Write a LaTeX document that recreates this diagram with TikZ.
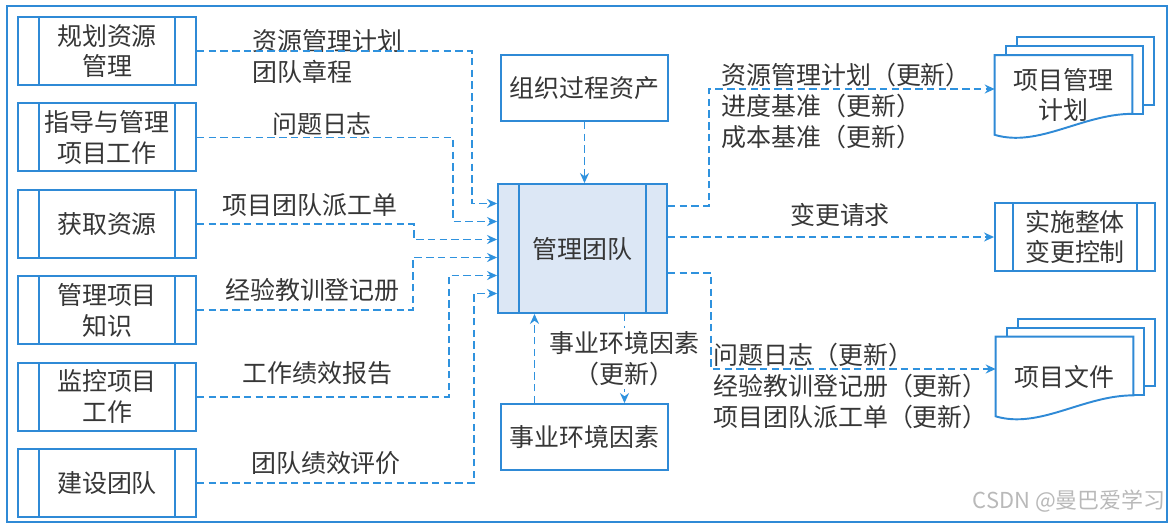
\documentclass[tikz,border=0pt]{standalone}
\usepackage{fontspec}
\setmainfont{Noto Sans CJK SC}
\usetikzlibrary{positioning,arrows.meta,calc,backgrounds}
\definecolor{lineblue}{HTML}{2F8AD6}
\definecolor{flowblue}{HTML}{2F92DE}
\definecolor{fillblue}{HTML}{DCE7F5}
\definecolor{inkgray}{HTML}{363636}
\newcommand{\diagfont}{\fontsize{14.2}{17.5}\selectfont}

\begin{document}
\begin{tikzpicture}[
  x=0.02cm, y=-0.02cm,
  node distance=0.33cm,
  every node/.style={text=inkgray, font=\diagfont},
  box/.style={draw=lineblue, line width=1.1pt, align=center, inner sep=2pt, minimum width=3.34cm, minimum height=1.32cm},
  proc/.style={box, minimum width=3.56cm, minimum height=1.36cm,
    path picture={\draw[lineblue, line width=1.1pt]
      ([xshift=#1]path picture bounding box.north west) -- ([xshift=#1]path picture bounding box.south west)
      ([xshift=-#1]path picture bounding box.north east) -- ([xshift=-#1]path picture bounding box.south east);}},
  proc/.default=0.42cm,
  doc/.style={align=center, inner sep=0pt, minimum width=2.74cm, minimum height=1.58cm},
  page/.style={draw=lineblue, line width=1.1pt, fill=white},
  lbl/.style={align=left, inner sep=0pt},
  flow/.style={draw=flowblue, line width=1pt, dash pattern=on 0.15cm off 0.085cm, -{Stealth[length=2mm, width=1.8mm]}}
]
\useasboundingbox (0,0) rectangle (1175,528);
\draw[lineblue, line width=1.1pt] (7,6) rectangle (1167,522);

% inputs
\node[proc] (plan) at (107,51) {规划资源\\管理};
\node[proc, below=of plan] (direct) {指导与管理\\项目工作};
\node[proc, below=of direct] (acquire) {获取资源};
\node[proc, below=of acquire] (knowledge) {管理项目\\知识};
\node[proc, below=of knowledge] (monitor) {监控项目\\工作};
\node[proc, below=of monitor] (develop) {建设团队};

% process and enterprise factors
\node[proc, minimum width=3.38cm, minimum height=2.58cm, fill=fillblue] (mt) at (582.5,248.5) {管理团队};
\node[box] (opa) at (584.5,88) {组织过程资产};
\node[box] (eef) at (584.5,437) {事业环境因素};

% outputs
\node[proc=0.36cm, minimum width=3.2cm] (icc) at (1075,237) {实施整体\\变更控制};
\node[doc] (pmp) at (1063.5,95) {项目管理\\计划};
\node[doc] (pdocs) at (1064.5,376.5) {项目文件};
\begin{scope}[on background layer]
\foreach \d in {pmp,pdocs}{
  \draw[page] ($(\d.north west)+(22,-18)$) rectangle ($(\d.south east)+(22,-30)$);
  \draw[page] ($(\d.north west)+(11,-9)$) rectangle ($(\d.south east)+(11,-21)$);
  \draw[page] (\d.north west) -- (\d.south west)
    .. controls +(44,13) and +(-50,0) .. ($(\d.south east)+(0,-21)$) -- (\d.north east) -- cycle;
}
\end{scope}

% labels
\node[lbl, anchor=west] (lplan) at (252,56.5) {资源管理计划\\团队章程};
\node[lbl] (lissue) at (322,124) {问题日志};
\node[lbl] (lassign) at (310,205) {项目团队派工单};
\node[lbl] (llesson) at (312.5,289.5) {经验教训登记册};
\node[lbl] (lperf) at (317.5,373) {工作绩效报告};
\node[lbl] (leval) at (326,463) {团队绩效评价};
\node[lbl, anchor=west] (lupd1) at (721,106) {资源管理计划（更新）\\进度基准（更新）\\成本基准（更新）};
\node[lbl] (lchange) at (840,215) {变更请求};
\node[lbl, anchor=west] (lupd2) at (713,386) {问题日志（更新）\\经验教训登记册（更新）\\项目团队派工单（更新）};

% connectors
\draw[flow] (plan.east) -- ++(275,0) |- ($(mt.west)+(0,-45)$);
\draw[flow] (direct.east) -- ++(256,0) |- ($(mt.west)+(0,-27)$);
\draw[flow] (acquire.east) -- ++(217,0) |- ($(mt.west)+(0,-9)$);
\draw[flow] (knowledge.east) -- ++(216,0) |- ($(mt.west)+(0,9)$);
\draw[flow] (monitor.east) -- ++(252,0) |- ($(mt.west)+(0,27)$);
\draw[flow] (develop.east) -- ++(277,0) |- ($(mt.west)+(0,45)$);
\draw[flow] (opa.south) -- (opa.south |- mt.north);
\coordinate (eefup) at ($(eef.north)+(-50,0)$);
\coordinate (eefdn) at ($(mt.south)+(42,0)$);
\draw[flow] (eefup) -- (eefup |- mt.south);
\draw[flow] (eefdn) -- node[align=center, fill=white, inner sep=2pt] (leef) {事业环境因素\\（更新）} (eefdn |- eef.north);
\draw[flow] ($(mt.east)+(0,-42.5)$) -- ++(41,0) |- ($(pmp.west)+(0,-6)$);
\draw[flow] (icc.west -| mt.east) -- (icc.west);
\draw[flow] ($(mt.east)+(0,24.5)$) -- ++(43,0) |- ($(pdocs.west)+(0,-7.5)$);

\node[anchor=east, inner sep=0pt, text=gray!55, font=\fontsize{12.5}{14}\selectfont] (wm) at (1166,501) {CSDN @曼巴爱学习};
\end{tikzpicture}
\end{document}
